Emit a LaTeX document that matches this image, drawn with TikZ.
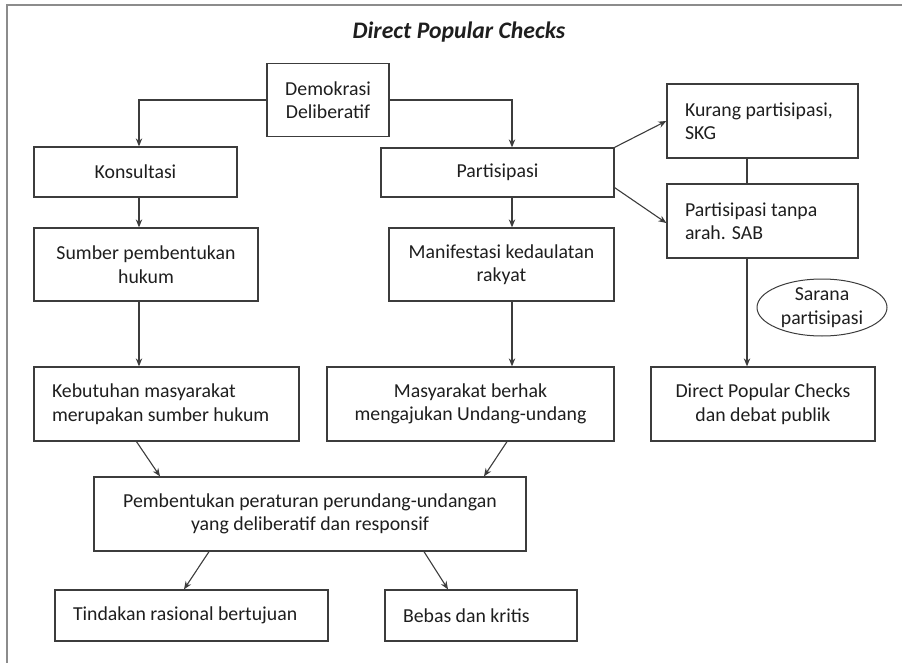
\documentclass[tikz,border=0pt]{standalone}
\usepackage{fontspec}
\setmainfont{Carlito}
\usetikzlibrary{arrows.meta}

\definecolor{linegray}{HTML}{3C3C3C}
\definecolor{framegray}{HTML}{8C8C8C}
\definecolor{textgray}{HTML}{1E1E1E}

\tikzset{
  kotak/.style={draw=linegray, line width=1.3pt, inner sep=0pt, align=center,
    minimum height=74pt, text=textgray, font=\fontsize{19.8}{23.5}\selectfont},
  kotakkiri/.style={kotak, align=flush left},
  panah/.style={->, draw=linegray, line width=1.1pt},
}

\begin{document}
\begin{tikzpicture}[x=1pt, y=-1pt, >={Stealth[length=8pt, width=6.5pt]}]
                      \useasboundingbox (0,0) rectangle (902,663);
                      \draw[framegray, line width=2pt] (7,663) -- (7,5) -- (902,5);

                      \node[text=textgray, font=\fontsize{23.7}{28}\selectfont\bfseries\itshape] (judul) at (459,32) {Direct Popular Checks};

                      \node[kotak, minimum width=122pt, minimum height=73pt] (demo) at (328,100) {Demokrasi\\Deliberatif};
                      \node[kotak, minimum width=203pt, minimum height=50pt] (kons) at (135.5,172) {Konsultasi};
                      \node[kotak, minimum width=233pt, minimum height=49pt] (part) at (497.5,172.5) {Partisipasi};

                      \node[kotakkiri, minimum width=191pt, text width=155pt] (kurang) at (762.5,121) {Kurang partisipasi,\\SKG};
                      \node[kotakkiri, minimum width=191pt, text width=155pt] (tanpa) at (762.5,221) {Partisipasi tanpa\\arah. SAB};

                      \node[kotak, minimum width=224pt, minimum height=73pt] (sumber) at (146,264.5) {Sumber pembentukan\\hukum};
                      \node[kotak, minimum width=225pt, minimum height=73pt] (manif) at (501.5,264.5) {Manifestasi kedaulatan\\rakyat};

                      \node[text=textgray, align=center, inner sep=0pt, font=\fontsize{19.8}{23.5}\selectfont] (sarana) at (822,307.5) {Sarana\\partisipasi};
                      \draw[linegray, line width=1pt] (sarana.center) ellipse [x radius=65pt, y radius=28.5pt];

                      \node[kotakkiri, minimum width=265pt, text width=229pt] (butuh) at (166.5,404) {Kebutuhan masyarakat\\merupakan sumber hukum};
                      \node[kotak, minimum width=287pt] (berhak) at (470.5,404) {Masyarakat berhak\\mengajukan Undang-undang};
                      \node[kotak, minimum width=224pt] (dpc) at (763,404) {Direct Popular Checks\\dan debat publik};

                      \node[kotak, minimum width=432pt] (bentuk) at (310,514) {Pembentukan peraturan perundang-undangan\\yang deliberatif dan responsif};

                      \node[kotakkiri, minimum width=273pt, minimum height=51pt, text width=237pt] (tindak) at (191.5,615.5) {Tindakan rasional bertujuan};
                      \node[kotakkiri, minimum width=192pt, minimum height=51pt, text width=156pt] (bebas) at (481,615.5) {Bebas dan kritis};

                      \draw[panah] (demo.west) -| ([xshift=3.5pt]kons.north);
                      \draw[panah] (demo.east) -| ([xshift=14.5pt]part.north);

                      \draw[panah] ([xshift=3.5pt]kons.south) -- ([xshift=3.5pt]kons.south |- sumber.north);
                      \draw[panah] ([xshift=14.5pt]part.south) -- ([xshift=14.5pt]part.south |- manif.north);

                      \draw[panah] (part.north east) -- (kurang.west);
                      \draw[panah] ([yshift=10pt]part.south east) -- ([yshift=-2pt]tanpa.west);
                      \draw[linegray, line width=1.1pt] ([xshift=-15.5pt]kurang.south) -- ([xshift=-15.5pt]kurang.south |- tanpa.north);
                      \draw[panah] ([xshift=-15.5pt]tanpa.south) -- ([xshift=-15.5pt]tanpa.south |- dpc.north);

                      \draw[panah] ([xshift=-7pt]sumber.south) -- ([xshift=-7pt]sumber.south |- butuh.north);
                      \draw[panah] ([xshift=10.5pt]manif.south) -- ([xshift=10.5pt]manif.south |- berhak.north);

                      \draw[panah] ([xshift=-30pt]butuh.south) -- ([xshift=-150pt]bentuk.north);
                      \draw[panah] ([xshift=36.5pt]berhak.south) -- ([xshift=174pt]bentuk.north);

                      \draw[panah] ([xshift=-101pt]bentuk.south) -- ([xshift=-7.5pt]tindak.north);
                      \draw[panah] ([xshift=114pt]bentuk.south) -- ([xshift=-33pt]bebas.north);
\end{tikzpicture}
\end{document}
